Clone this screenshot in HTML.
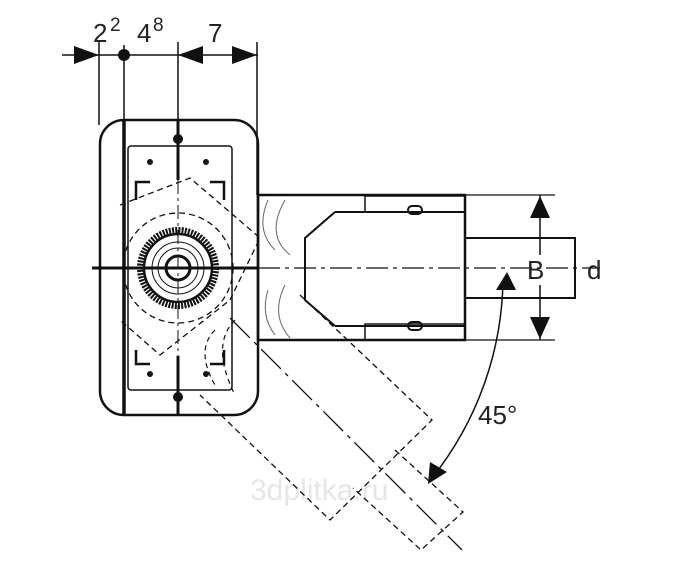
<!DOCTYPE html>
<html><head><style>html,body{margin:0;padding:0;background:#fff}svg{display:block}</style></head>
<body>
<svg width="691" height="587" viewBox="0 0 691 587" xmlns="http://www.w3.org/2000/svg" font-family="Liberation Sans, sans-serif">
<g stroke="#111" fill="none" stroke-width="1.5">
<line x1="62" y1="55" x2="258" y2="55"/>
<line x1="99" y1="42" x2="99" y2="125"/>
<line x1="124" y1="45" x2="124" y2="125"/>
<line x1="178" y1="42" x2="178" y2="125"/>
<line x1="257" y1="42" x2="257" y2="195"/>
</g>
<g fill="#111">
<polygon points="74,46 99,55 74,64"/>
<circle cx="124" cy="55" r="6"/>
<polygon points="178,55 203,46 203,64"/>
<polygon points="257,55 232,46 232,64"/>
</g>
<g font-size="26" fill="#222">
<text x="93" y="42">2</text><text x="110" y="31" font-size="19">2</text>
<text x="137" y="42">4</text><text x="153" y="31" font-size="19">8</text>
<text x="208" y="42">7</text>
</g>
<text x="250" y="500" font-size="30" fill="#e6e6e6">3dplitka.ru</text>
<g stroke="#111" fill="none">
<rect x="100" y="120" width="158" height="295" rx="24" stroke-width="2.5"/>
<rect x="128" y="146" width="104" height="244" rx="3" stroke-width="1.5"/>
<line x1="124" y1="120" x2="124" y2="415" stroke-width="3.5"/>
<line x1="178" y1="120" x2="178" y2="180" stroke-width="3"/>
<line x1="178" y1="356" x2="178" y2="415" stroke-width="3"/>
<line x1="92" y1="268" x2="258" y2="268" stroke-width="3"/>
<line x1="258" y1="268" x2="600" y2="268" stroke-width="1.3" stroke-dasharray="22,5,4,5"/>
<line x1="178" y1="180" x2="178" y2="356" stroke-width="1" stroke-dasharray="14,4,3,4"/>
<path d="M150,182 H136 V200 M210,182 H224 V200 M224,350 V364 H210 M150,364 H136 V350" stroke-width="2.5"/>
<circle cx="178" cy="268" r="38" stroke-width="6" stroke-dasharray="2,1.2"/>
<circle cx="178" cy="268" r="34" stroke-width="2.5"/>
<circle cx="178" cy="268" r="26" stroke-width="1"/>
<circle cx="178" cy="268" r="20" stroke-width="1"/>
<circle cx="178" cy="268" r="12" stroke-width="3"/>
<circle cx="178" cy="268" r="55" stroke-width="1.3" stroke-dasharray="6,4"/>
<path d="M120,205 L190,178 L260,238 L230,300 L160,355 L120,320" stroke-width="1.3" stroke-dasharray="6,4"/>
<rect x="258" y="195" width="207" height="145" stroke-width="2.5"/>
<path d="M335,212 H465 M335,326 H465 M335,212 L305,238 V300 L335,326" stroke-width="2"/>
<rect x="365" y="196" width="100" height="16" stroke-width="1.5"/>
<rect x="365" y="324" width="100" height="16" stroke-width="1.5"/>
<rect x="408" y="206" width="14" height="8" rx="4" stroke-width="2"/>
<rect x="408" y="322" width="14" height="8" rx="4" stroke-width="2"/>
<path d="M268,200 Q255,230 275,250 M285,200 Q265,235 290,255" stroke-width="1" stroke="#666"/>
<path d="M268,290 Q260,315 275,335 M285,285 Q270,315 290,338" stroke-width="1" stroke="#666"/>
<rect x="465" y="238" width="110" height="60" stroke-width="2"/>
<line x1="465" y1="195" x2="555" y2="195" stroke-width="1.3"/>
<line x1="465" y1="340" x2="555" y2="340" stroke-width="1.3"/>
<line x1="540" y1="195" x2="540" y2="255" stroke-width="1.5"/>
<line x1="540" y1="285" x2="540" y2="340" stroke-width="1.5"/>
<!-- diagonal pipe -->
<line x1="230" y1="318" x2="462" y2="550" stroke-width="1.3" stroke-dasharray="28,6,4,6"/>
<path d="M300,295 L432,420 L330,520 L200,395" stroke-width="1.3" stroke-dasharray="6,4"/>
<path d="M395,450 L463,512 L421,550 L353,488" stroke-width="1.3" stroke-dasharray="6,4"/>
<path d="M215,330 Q195,350 215,385 M235,320 Q210,345 235,395" stroke-width="1.2" stroke-dasharray="5,4"/>
<path d="M503,280 A325,325 0 0 1 432,478" stroke-width="1.5"/>
</g>
<g fill="#111">
<polygon points="540,196 530,218 550,218"/>
<polygon points="540,339 530,317 550,317"/>
<polygon points="507,272 496,290 516,290"/>
<polygon points="428,484 430,462 447,472"/>
<circle cx="178" cy="139" r="5"/><circle cx="178" cy="397" r="5"/>
<circle cx="150" cy="162" r="3"/><circle cx="206" cy="162" r="3"/>
<circle cx="150" cy="374" r="3"/><circle cx="206" cy="374" r="3"/>
</g>
<g font-size="26" fill="#222">
<text x="527" y="279">B</text>
<text x="587" y="279">d</text>
<text x="478" y="424">45°</text>
</g>
</svg>
</body></html>
